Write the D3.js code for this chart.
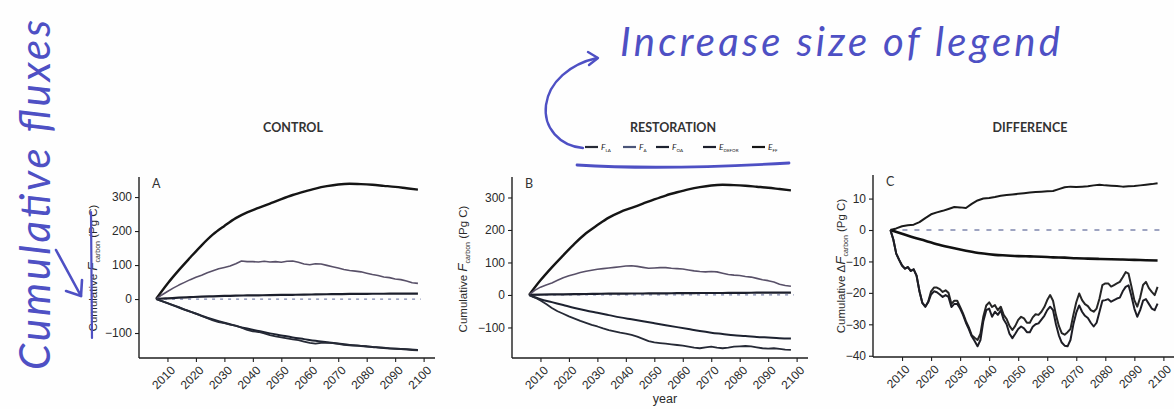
<!DOCTYPE html>
<html><head><meta charset="utf-8">
<script src="https://cdn.jsdelivr.net/npm/d3@7"></script>
<style>
body{margin:0;background:#fff;}
svg{display:block;}
</style></head><body>
<svg id="chart" width="1174" height="409"></svg>
<script>
// ---------------- DATA ----------------
const years4 = d3.range(2006, 2099, 4);   // 2006..2098 step 4 (24)
const years2 = d3.range(2006, 2099, 2);   // 2006..2098 step 2 (47)
const years1 = d3.range(2006, 2099, 1);   // 2006..2098 step 1 (93)
const xTickValues = [2010, 2020, 2030, 2040, 2050, 2060, 2070, 2080, 2090, 2100];
const yTicksAB = [-100, 0, 100, 200, 300];
const yTicksC = [-40, -30, -20, -10, 0, 10];
const panelTitles = ["CONTROL", "RESTORATION", "DIFFERENCE"];
const panelLetters = ["A", "B", "C"];
const legendNames = [["F","LA"], ["F","A"], ["F","OA"], ["E","DEFOR"], ["E","FF"]];

// CONTROL (Pg C, cumulative)
const ctrlEFF = [0, 45, 85, 122, 158, 190, 215, 238, 255, 268, 281, 294, 306, 316, 325, 332, 337, 339, 338, 336, 333, 330, 326, 322];
const ctrlEDEFOR = [0, 2, 4, 5.5, 7, 8, 9, 10, 10.5, 11, 11.5, 12, 12.5, 13, 13.5, 14, 14.5, 15, 15, 15.5, 15.5, 16, 16, 16];
const ctrlFOA = [0, -12, -25, -37, -49, -60, -70, -79, -87, -94, -101, -107, -113, -118, -123, -127, -131, -135, -138, -141, -144, -146, -148, -150];
const ctrlFA = [0, 12, 22, 32, 41, 49, 57, 64, 70, 77, 83, 89, 93, 97, 104, 112, 110, 110, 109, 111, 109, 110, 108, 111, 112, 108, 103, 101, 104, 103, 99, 95, 91, 87, 84, 82, 80, 76, 72, 69, 65, 63, 59, 57, 53, 48, 46];
const ctrlFLA = [0, -6, -12, -18, -24, -31, -37, -43, -50, -56, -63, -68, -71, -75, -78, -84, -91, -95, -97, -101, -106, -110, -113, -116, -119, -121, -125, -129, -131, -129, -128, -130, -132, -135, -136, -137, -138, -139, -141, -142, -143, -145, -146, -147, -148, -150, -151];

// RESTORATION
const restEFF = [0, 45, 85, 122, 158, 190, 215, 238, 255, 268, 281, 294, 306, 316, 325, 332, 337, 339, 338, 336, 333, 330, 326, 322];
const restEDEFOR = [0, 1, 1.5, 2, 2.5, 3, 3.5, 4, 4, 4.5, 4.5, 5, 5, 5.5, 5.5, 6, 6, 6, 6.5, 6.5, 7, 7, 7, 7];
const restFOA = [0, -13, -22, -31, -40, -48, -55, -62, -69, -75, -81, -87, -93, -99, -105, -111, -116, -120, -124, -126, -129, -131, -133, -134];
const restFA = [0, 14, 24, 31, 37, 45, 53, 59, 64, 69, 73, 76, 79, 81, 83, 85, 87, 89, 90, 88, 85, 82, 83, 84, 84, 82, 81, 80, 77, 74, 72, 71, 72, 71, 67, 63, 61, 60, 57, 55, 51, 47, 44, 40, 33, 29, 27];
const restFLA = [0, -8, -17, -28, -40, -50, -58, -66, -73, -80, -86, -92, -97, -103, -108, -112, -116, -119, -123, -128, -135, -142, -146, -148, -150, -152, -154, -156, -159, -162, -164, -161, -159, -162, -164, -162, -159, -158, -157, -158, -161, -164, -165, -164, -166, -168, -169];

// DIFFERENCE (restoration - control)
const diffFOA = [0, 0.5, 1.2, 1.5, 1.7, 2.5, 3.8, 5, 5.6, 6.1, 6.7, 7.3, 7.2, 7.0, 8.3, 9.4, 10, 10.2, 10.5, 10.9, 11.1, 11.3, 11.5, 11.7, 11.9, 12.1, 12.2, 12.3, 12.4, 13, 13.6, 13.8, 13.7, 13.8, 13.9, 14.2, 14.4, 14.2, 14.1, 14.0, 13.8, 13.9, 14.0, 14.2, 14.4, 14.6, 14.9];
const diffEDEFOR = [0, -1.2, -2.4, -3.4, -4.5, -5.4, -6.2, -6.9, -7.5, -7.9, -8.1, -8.3, -8.4, -8.5, -8.7, -8.8, -9.0, -9.1, -9.2, -9.3, -9.4, -9.5, -9.6, -9.7];
const diffFA = [0, -3, -7.5, -9.5, -11.3, -12.3, -11.8, -13, -12.5, -14.5,
  -19.5, -23.2, -24.4, -22.8, -19.5, -18.3, -18.3, -18.8, -19.7, -19.2,
  -20, -23.5, -22.5, -22.5, -24.5, -26.5, -29, -31, -33.5, -34.3,
  -35, -33, -27.5, -24, -23, -24.5, -23.9, -25.5, -24.4, -27,
  -28.3, -30.5, -31.8, -30.5, -28.6, -27.6, -28.1, -29.5, -29.5, -27.8,
  -26.8, -27, -26, -24.5, -22.3, -20.7, -22.5, -27, -30.5, -32.8,
  -33.3, -32.5, -31.5, -27, -23, -20.2, -22.3, -23.6, -24.2, -25.5,
  -26, -25, -21.8, -17.5, -17, -17, -18, -17.5, -17, -16.5,
  -15, -13.4, -13.9, -18, -22.3, -24.4, -21.5, -17.5, -16.5, -18.5,
  -19.7, -20.7, -18.1];
const diffFLA = [0, -3, -7.5, -9.5, -11.3, -12.3, -11.8, -13, -12.5, -14.5,
  -19.5, -23.2, -24.4, -23, -20.5, -19.5, -19.8, -20.5, -21.3, -20.7,
  -21.3, -24.5, -23.5, -23.5, -25, -27, -29.5, -31.5, -33.8, -35.3,
  -37, -35, -29, -25.5, -25, -27.6, -26, -27, -25.5, -28.5,
  -30, -33, -34.4, -33, -31.5, -30.7, -31.3, -32.5, -32.5, -30.8,
  -30, -29.7, -28.5, -27.3, -25.5, -24.4, -25.5, -30, -33.5, -35.8,
  -36.8, -37, -35, -30, -26.3, -24, -26, -27.3, -28, -29.5,
  -30.7, -29.5, -26, -22.5, -22.3, -22, -22.8, -22.3, -21.8, -21.5,
  -19.5, -18.1, -17.6, -21, -25, -27.6, -25.5, -22.5, -22, -23.5,
  -25, -25.5, -23.4];

// ---------------- STYLE ----------------
const styles = {
  EFF:   {color: "#151515", width: 2.4, curve: d3.curveMonotoneX},
  EDEFOR:{color: "#1c1f2c", width: 2.2, curve: d3.curveMonotoneX},
  FOA:   {color: "#1d2230", width: 2.0, curve: d3.curveMonotoneX},
  FA:    {color: "#585068", width: 1.6, curve: d3.curveLinear},
  FLA:   {color: "#262a36", width: 1.8, curve: d3.curveLinear}
};
const cStyles = {
  FOA:   {color: "#1a1a1a", width: 2.0, curve: d3.curveLinear},
  EDEFOR:{color: "#111111", width: 2.6, curve: d3.curveMonotoneX},
  FA:    {color: "#262626", width: 2.0, curve: d3.curveLinear},
  FLA:   {color: "#1d1d25", width: 2.0, curve: d3.curveLinear}
};

const panels = [
  {left: 139, right: 435, top: 177, bottom: 358, yDomain: [-173.5, 359], yTicks: yTicksAB,
   labelX: 97, labelY: 268, delta: false,
   series: [
     {x: years4, y: ctrlEFF, s: styles.EFF},
     {x: years4, y: ctrlEDEFOR, s: styles.EDEFOR},
     {x: years2, y: ctrlFA, s: styles.FA},
     {x: years4, y: ctrlFOA, s: styles.FOA},
     {x: years2, y: ctrlFLA, s: styles.FLA}
   ]},
  {left: 512, right: 808, top: 177, bottom: 358, yDomain: [-194, 363], yTicks: yTicksAB,
   labelX: 467, labelY: 269, delta: false, xlab: "year",
   series: [
     {x: years4, y: restEFF, s: styles.EFF},
     {x: years4, y: restEDEFOR, s: styles.EDEFOR},
     {x: years2, y: restFA, s: styles.FA},
     {x: years4, y: restFOA, s: styles.FOA},
     {x: years2, y: restFLA, s: styles.FLA}
   ]},
  {left: 873, right: 1175, top: 175, bottom: 357, yDomain: [-40.4, 17.5], yTicks: yTicksC,
   labelX: 845, labelY: 266, delta: true, dash: "5,7",
   series: [
     {x: years2, y: diffFOA, s: cStyles.FOA},
     {x: years4, y: diffEDEFOR, s: cStyles.EDEFOR},
     {x: years1, y: diffFA, s: cStyles.FA},
     {x: years1, y: diffFLA, s: cStyles.FLA}
   ]}
];
const titleX = [293, 673, 1030];

const svg = d3.select("#chart");
svg.append("rect").attr("width", 1174).attr("height", 409).attr("fill", "#fefefe");

const axisColor = "#1e1e1e";
const textColor = "#2a2a2a";
const tickFont = "'Liberation Sans', Arial, sans-serif";

panels.forEach((p, i) => {
  const x = d3.scaleLinear().domain([2000, 2104]).range([p.left, p.right]);
  const y = d3.scaleLinear().domain(p.yDomain).range([p.bottom, p.top]);
  const g = svg.append("g");

  // zero reference line
  g.append("line")
    .attr("x1", x(2006)).attr("x2", x(2099))
    .attr("y1", y(0)).attr("y2", y(0))
    .attr("stroke", "#7f86ad").attr("stroke-width", 1.3)
    .attr("stroke-dasharray", p.dash || "3,5");

  // series lines
  p.series.forEach(sr => {
    const pts = sr.x.map((yr, k) => [yr, sr.y[k]]);
    g.append("path")
      .datum(pts)
      .attr("fill", "none")
      .attr("stroke", sr.s.color)
      .attr("stroke-width", sr.s.width)
      .attr("stroke-linejoin", "round")
      .attr("d", d3.line().curve(sr.s.curve).x(d => x(d[0])).y(d => y(d[1])));
  });

  // axes
  const yAxis = d3.axisLeft(y).tickValues(p.yTicks).tickSize(4).tickPadding(3).tickFormat(d3.format("d"));
  const ya = g.append("g").attr("transform", `translate(${p.left},0)`).call(yAxis);
  ya.select(".domain").attr("d", `M0,${p.top}V${p.bottom}`);
  const xAxis = d3.axisBottom(x).tickValues(xTickValues).tickSize(4).tickFormat(d3.format("d"));
  const xa = g.append("g").attr("transform", `translate(0,${p.bottom})`).call(xAxis);
  xa.select(".domain").attr("d", `M${p.left},0H${p.right}`);
  [ya, xa].forEach(a => {
    a.select(".domain").attr("stroke", axisColor).attr("stroke-width", 1.4);
    a.selectAll(".tick line").attr("stroke", axisColor).attr("stroke-width", 1.1);
    a.selectAll("text").attr("fill", textColor).attr("font-family", tickFont).attr("font-size", 12);
  });
  xa.selectAll("text")
    .attr("text-anchor", "end")
    .attr("dy", "0.6em")
    .attr("transform", "translate(-2,3) rotate(-45)");

  // title
  svg.append("text").attr("x", titleX[i]).attr("y", 132)
    .attr("text-anchor", "middle").attr("font-family", "Lato, 'Open Sans', sans-serif")
    .attr("font-weight", 700).attr("font-size", 12.5).attr("fill", "#333").text(panelTitles[i]);

  // panel letter
  svg.append("text").attr("x", p.left + 13).attr("y", p.top + 11)
    .attr("font-family", "Lato, 'Open Sans', sans-serif").attr("font-size", 12.5)
    .attr("fill", "#333").text(panelLetters[i]);

  // y label
  const yl = svg.append("text")
    .attr("transform", `translate(${p.labelX},${p.labelY}) rotate(-90)`)
    .attr("text-anchor", "middle").attr("font-family", tickFont)
    .attr("font-size", 11.5).attr("fill", textColor);
  yl.append("tspan").text(p.delta ? "Cumulative \u0394" : "Cumulative ");
  yl.append("tspan").attr("font-style", "italic").attr("font-size", 13.5).text("F");
  yl.append("tspan").attr("font-size", 7).attr("dy", 3).text("carbon");
  yl.append("tspan").attr("dy", -3).text(" (Pg C)");

  if (p.xlab) {
    svg.append("text").attr("x", (p.left + p.right) / 2 + 5).attr("y", 403)
      .attr("text-anchor", "middle").attr("font-family", tickFont)
      .attr("font-size", 12.5).attr("fill", textColor).text(p.xlab);
  }
});

// legend
const legendX = [585, 623, 656, 703, 752];
const legendColors = [styles.FLA.color, "#4a5478", styles.FOA.color, styles.EDEFOR.color, styles.EFF.color];
const lg = svg.append("g");
legendNames.forEach((nm, i) => {
  lg.append("line").attr("x1", legendX[i]).attr("x2", legendX[i] + 13)
    .attr("y1", 147).attr("y2", 147).attr("stroke", legendColors[i]).attr("stroke-width", 2.2);
  const t = lg.append("text").attr("x", legendX[i] + 16).attr("y", 150)
    .attr("font-family", "Lato, sans-serif").attr("font-size", 8.5).attr("fill", "#222");
  t.append("tspan").attr("font-style", "italic").text(nm[0]);
  t.append("tspan").attr("font-size", 4.5).attr("dy", 1.5).text(nm[1]);
});

// handwritten annotations (blue ink)
const ink = "#4e50c4";
const hand = "Lato, 'Noto Sans', sans-serif";
svg.append("text").attr("transform", "translate(50,370) rotate(-90)")
  .attr("font-family", hand).attr("font-style", "italic").attr("font-weight", 400)
  .attr("font-size", 42).attr("fill", ink).attr("textLength", 350).text("Cumulative fluxes");
svg.append("text").attr("x", 620).attr("y", 56)
  .attr("font-family", hand).attr("font-style", "italic").attr("font-weight", 400)
  .attr("font-size", 40).attr("fill", ink).attr("textLength", 440).text("Increase size of legend");

const annot = svg.append("g").attr("fill", "none").attr("stroke", ink)
  .attr("stroke-linecap", "round").attr("stroke-linejoin", "round");
// curved arrow from legend to note
annot.append("path").attr("stroke-width", 2.4)
  .attr("d", "M583,148 C560,146 543,128 546,105 C549,82 570,64 597,58");
annot.append("path").attr("stroke-width", 2.4)
  .attr("d", "M588,52 L598,58 L589,65");
// underline under legend
annot.append("path").attr("stroke-width", 2.8)
  .attr("d", "M577,165 C640,169 720,167 789,163");
// strike over first y label
annot.append("path").attr("stroke-width", 2.2)
  .attr("d", "M91,212 L92,338");
// small arrow pointing to the label
annot.append("path").attr("stroke-width", 2.6)
  .attr("d", "M56,250 L81,296");
annot.append("path").attr("stroke-width", 2.6)
  .attr("d", "M66,291 L81,296 L82,280");
</script>
</body></html>
